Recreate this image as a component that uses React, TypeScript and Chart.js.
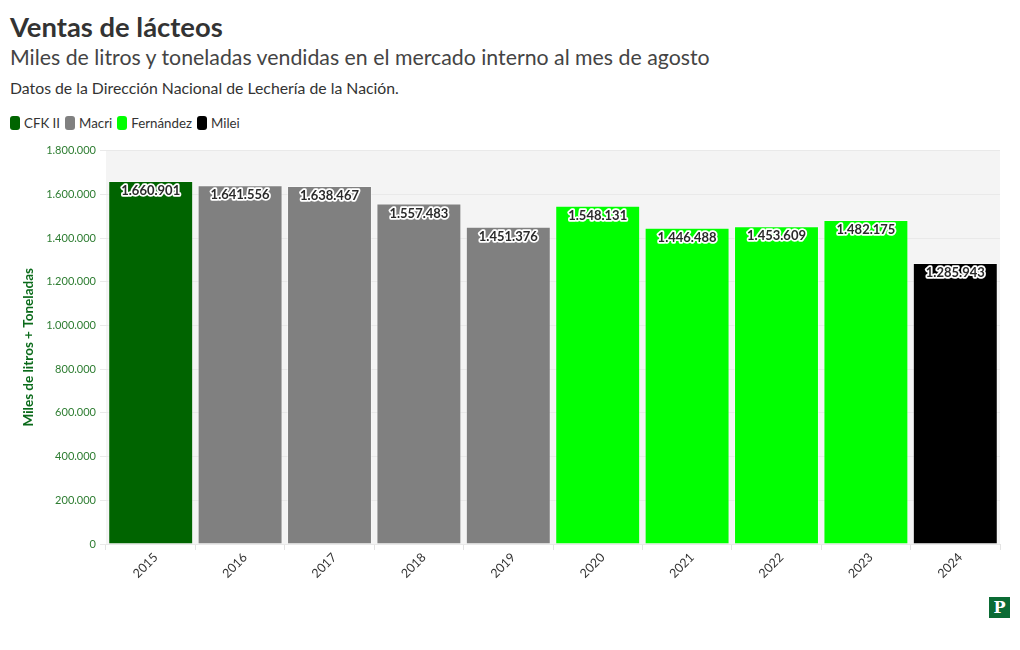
import React, { useEffect, useRef } from "react";
import { Chart, registerables } from "chart.js";

Chart.register(...registerables);

const years = ["2015", "2016", "2017", "2018", "2019", "2020", "2021", "2022", "2023", "2024"];
const sales = [1660901, 1641556, 1638467, 1557483, 1451376, 1548131, 1446488, 1453609, 1482175, 1285943];
const governments = ["CFK II", "Macri", "Macri", "Macri", "Macri", "Fernández", "Fernández", "Fernández", "Fernández", "Milei"];
const legendNames = ["CFK II", "Macri", "Fernández", "Milei"];
const legendColors = ["#006400", "#808080", "#00ff00", "#000000"];
const yTicks = [0, 200000, 400000, 600000, 800000, 1000000, 1200000, 1400000, 1600000, 1800000];

const FONT = "Lato, 'Noto Sans', sans-serif";

const fmt = (v: number) => v.toString().replace(/\B(?=(\d{3})+(?!\d))/g, ".");

const plotBg = {
  id: "plotBg",
  beforeDraw(chart: any) {
    const { ctx, chartArea } = chart;
    ctx.save();
    ctx.fillStyle = "#f4f4f4";
    ctx.fillRect(chartArea.left, chartArea.top, chartArea.right - chartArea.left, chartArea.bottom - chartArea.top);
    ctx.restore();
  },
};

const barLabels = {
  id: "barLabels",
  afterDatasetsDraw(chart: any) {
    const { ctx } = chart;
    const meta = chart.getDatasetMeta(0);
    ctx.save();
    ctx.font = `bold 13px ${FONT}`;
    ctx.textAlign = "center";
    ctx.textBaseline = "middle";
    ctx.lineJoin = "round";
    meta.data.forEach((el: any, i: number) => {
      const txt = fmt(sales[i]);
      const y = el.y + 10;
      ctx.lineWidth = 3.5;
      ctx.strokeStyle = "#ffffff";
      ctx.strokeText(txt, el.x, y);
      ctx.fillStyle = "#2a2a2a";
      ctx.fillText(txt, el.x, y);
    });
    ctx.restore();
  },
};

export default function App() {
  const ref = useRef<HTMLCanvasElement>(null);
  useEffect(() => {
    if (!ref.current) return;
    const colorOf = (g: string) => legendColors[legendNames.indexOf(g)];
    const chart = new Chart(ref.current, {
      type: "bar",
      data: {
        labels: years,
        datasets: [
          {
            data: sales,
            backgroundColor: governments.map(colorOf),
            borderColor: "rgba(255,255,255,0.35)",
            borderWidth: 1,
            barPercentage: 0.95,
            categoryPercentage: 1,
          },
        ],
      },
      options: {
        animation: false,
        responsive: false,
        maintainAspectRatio: false,
        layout: { padding: { top: 10, right: 20, left: 21, bottom: 0 } },
        plugins: { legend: { display: false }, tooltip: { enabled: false } },
        scales: {
          x: {
            grid: { display: true, drawOnChartArea: false, color: "#e4e4e4", tickLength: 6 },
            border: { display: false },
            ticks: {
              color: "#333",
              font: { family: FONT, size: 12.5 },
              maxRotation: 45,
              minRotation: 45,
              padding: 0,
              labelOffset: 5,
            },
            afterFit(scale: any) {
              scale.height = 56;
            },
          },
          y: {
            min: 0,
            max: 1800000,
            afterBuildTicks(scale: any) {
              scale.ticks = yTicks.map((v) => ({ value: v }));
            },
            grid: { color: "#e9e9e9", tickLength: 6 },
            border: { display: false },
            ticks: {
              color: "#2e7d32",
              font: { family: FONT, size: 11 },
              padding: 4,
              callback: (v: any) => fmt(Number(v)),
            },
            title: {
              display: true,
              text: "Miles de litros + Toneladas",
              color: "#0a6a1a",
              font: { family: FONT, size: 13.5, weight: "bold" },
              padding: { top: 0, bottom: 10 },
            },
            afterFit(scale: any) {
              scale.width = 85;
            },
          },
        },
      },
      plugins: [plotBg, barLabels],
    } as any);
    return () => chart.destroy();
  }, []);

  return (
    <div style={{ position: "absolute", left: 0, top: 0, width: 1020, height: 650, background: "#fff", fontFamily: FONT, color: "#333" }}>
      <div style={{ position: "absolute", left: 10, top: 9, fontSize: 27.4, fontWeight: 700, color: "#333", lineHeight: "36px" }}>
        Ventas de lácteos
      </div>
      <div style={{ position: "absolute", left: 10, top: 43, fontSize: 21.3, color: "#444", lineHeight: "28px" }}>
        Miles de litros y toneladas vendidas en el mercado interno al mes de agosto
      </div>
      <div style={{ position: "absolute", left: 10, top: 78, fontSize: 15.8, color: "#333", lineHeight: "20px" }}>
        Datos de la Dirección Nacional de Lechería de la Nación.
      </div>
      <div style={{ position: "absolute", left: 10, top: 114, display: "flex", alignItems: "center", fontSize: 13.3, color: "#333", lineHeight: "18px" }}>
        {legendNames.map((n, i) => (
          <div key={n} style={{ display: "flex", alignItems: "center", marginRight: 5 }}>
            <span style={{ display: "inline-block", width: 10, height: 14, borderRadius: 3, background: legendColors[i], marginRight: 4 }} />
            <span>{n}</span>
          </div>
        ))}
      </div>
      <canvas ref={ref} width={1020} height={460} style={{ position: "absolute", left: 0, top: 140, width: 1020, height: 460 }} />
      <div style={{ position: "absolute", left: 989, top: 597, width: 21, height: 21, background: "#0b6b34", color: "#fff", fontFamily: "'DejaVu Serif', serif", fontWeight: 700, fontSize: 16, lineHeight: "21px", textAlign: "center" }}>
        P
      </div>
    </div>
  );
}
